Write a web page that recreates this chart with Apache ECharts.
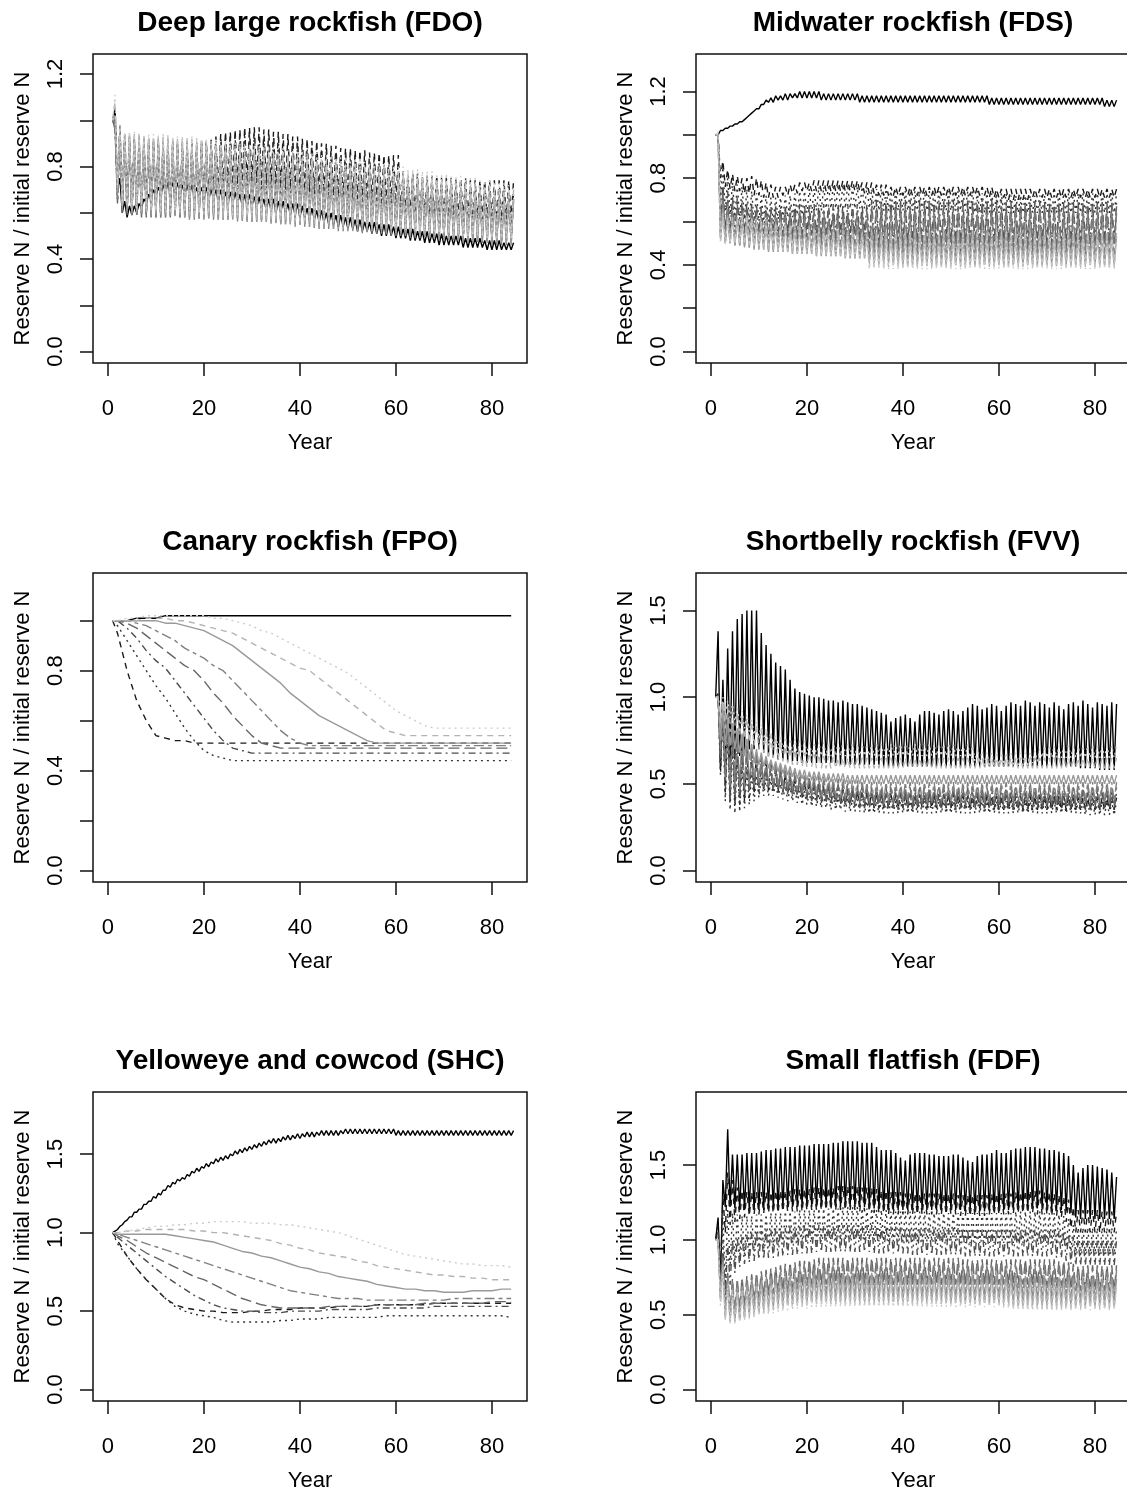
<!DOCTYPE html>
<html>
<head>
<meta charset="utf-8">
<script src="https://cdn.jsdelivr.net/npm/echarts@6/dist/echarts.min.js"></script>
<style>
html,body{margin:0;padding:0;background:#fff;overflow:hidden;}
#c{width:1140px;height:1494px;}
</style>
</head>
<body>
<div id="c"></div>
<script>
// ---------------- data ----------------
const YEARS = [1,2,3,4,5,6,7,8,9,10,11,12,13,14,15,16,17,18,19,20,21,22,23,24,25,26,27,28,29,30,31,32,33,34,35,36,37,38,39,40,41,42,43,44,45,46,47,48,49,50,51,52,53,54,55,56,57,58,59,60,61,62,63,64,65,66,67,68,69,70,71,72,73,74,75,76,77,78,79,80,81,82,83,84];
const YRS_SMOOTH = [1,2,4,6,8,10,12,14,16,18,20,22,24,26,28,30,32,34,36,38,40,42,44,46,48,50,52,54,56,58,60,62,64,66,68,70,72,74,76,78,80,82,84];
const X_TICKS = [0,20,40,60,80];
const Y_TICKS_A = [0,0.2,0.4,0.6,0.8,1.0,1.2];
const Y_LABELS_A = [0,0.4,0.8,1.2];
const Y_TICKS_B = [0,0.2,0.4,0.6,0.8,1.0];
const Y_LABELS_B = [0,0.4,0.8];
const Y_TICKS_C = [0,0.5,1.0,1.5];
const Y_LABELS_C = [0,0.5,1.0,1.5];
const SCENARIOS = ['s1','s2','s3','s4','s5','s6','s7','s8','s9'];

// Deep large rockfish (FDO): values at whole years (lo) and mid-year (hi)
const FDO_lo = [
[1.00,.70,.60,.58,.59,.60,.62,.64,.66,.67,.68,.69,
.69,.69,.68,.68,.68,.67,.67,.67,.66,.66,.65,.65,
.64,.64,.64,.63,.63,.63,.62,.62,.61,.61,.60,.60,
.60,.59,.59,.58,.58,.57,.57,.56,.56,.55,.55,.54,
.54,.53,.53,.52,.52,.52,.51,.51,.50,.50,.50,.49,
.49,.49,.48,.48,.48,.47,.47,.47,.46,.46,.46,.46,
.46,.45,.45,.45,.45,.45,.44,.44,.44,.44,.44,.44],
[1.00,.72,.68,.67,.66,.66,.66,.65,.65,.65,.64,.64,
.64,.64,.64,.64,.64,.64,.65,.66,.67,.68,.69,.70,
.71,.72,.72,.73,.73,.73,.73,.72,.72,.72,.71,.71,
.70,.70,.70,.69,.69,.69,.68,.68,.68,.67,.67,.67,
.66,.66,.66,.66,.65,.65,.65,.65,.64,.64,.64,.64,
.60,.60,.60,.59,.59,.59,.59,.58,.58,.58,.58,.58,
.58,.58,.57,.57,.57,.57,.57,.57,.57,.57,.57,.57],
[1.00,.65,.62,.61,.60,.60,.60,.60,.60,.60,.60,.60,
.60,.60,.60,.61,.61,.62,.62,.63,.63,.64,.65,.65,
.66,.66,.67,.67,.67,.67,.67,.67,.66,.66,.66,.65,
.65,.65,.64,.64,.64,.63,.63,.63,.62,.62,.62,.61,
.61,.61,.60,.60,.60,.60,.59,.59,.59,.59,.58,.58,
.56,.56,.56,.55,.55,.55,.55,.54,.54,.54,.54,.54,
.53,.53,.53,.53,.53,.53,.52,.52,.52,.52,.52,.52],
[1.00,.66,.61,.60,.59,.59,.59,.59,.59,.59,.59,.59,
.59,.59,.59,.59,.59,.60,.60,.60,.60,.60,.60,.60,
.60,.60,.60,.60,.60,.60,.60,.60,.60,.59,.59,.59,
.59,.59,.58,.58,.58,.58,.57,.57,.57,.57,.56,.56,
.56,.56,.56,.55,.55,.55,.55,.54,.54,.54,.54,.54,
.53,.53,.53,.53,.53,.52,.52,.52,.52,.52,.51,.51,
.51,.51,.51,.51,.50,.50,.50,.50,.50,.50,.50,.50],
[1.00,.64,.60,.59,.59,.59,.58,.58,.58,.58,.58,.58,
.58,.58,.58,.58,.58,.58,.58,.58,.58,.58,.58,.58,
.58,.58,.58,.58,.57,.57,.57,.57,.57,.57,.57,.56,
.56,.56,.56,.56,.55,.55,.55,.55,.55,.54,.54,.54,
.54,.54,.53,.53,.53,.53,.53,.52,.52,.52,.52,.52,
.51,.51,.51,.51,.51,.50,.50,.50,.50,.50,.49,.49,
.49,.49,.49,.49,.48,.48,.48,.48,.48,.48,.48,.48],
[1.00,.66,.61,.60,.59,.59,.59,.59,.59,.58,.58,.58,
.58,.58,.58,.58,.57,.57,.57,.57,.57,.57,.57,.57,
.57,.57,.56,.56,.56,.56,.56,.56,.56,.55,.55,.55,
.55,.55,.54,.54,.54,.54,.53,.53,.53,.53,.53,.52,
.52,.52,.52,.52,.51,.51,.51,.51,.51,.50,.50,.50,
.50,.50,.49,.49,.49,.49,.49,.48,.48,.48,.48,.48,
.48,.47,.47,.47,.47,.47,.47,.46,.46,.46,.46,.46],
[1.00,.68,.62,.61,.60,.60,.60,.60,.59,.59,.59,.59,
.59,.59,.59,.58,.58,.58,.58,.58,.58,.58,.57,.57,
.57,.57,.57,.57,.57,.56,.56,.56,.56,.56,.56,.55,
.55,.55,.55,.55,.55,.54,.54,.54,.54,.54,.53,.53,
.53,.53,.53,.52,.52,.52,.52,.52,.51,.51,.51,.51,
.51,.50,.50,.50,.50,.50,.49,.49,.49,.49,.49,.49,
.48,.48,.48,.48,.48,.48,.47,.47,.47,.47,.47,.47],
[1.00,.70,.63,.62,.61,.61,.61,.60,.60,.60,.60,.60,
.60,.60,.60,.60,.59,.59,.59,.59,.59,.59,.59,.58,
.58,.58,.58,.58,.58,.58,.57,.57,.57,.57,.57,.57,
.56,.56,.56,.56,.56,.56,.55,.55,.55,.55,.55,.55,
.54,.54,.54,.54,.54,.53,.53,.53,.53,.53,.53,.52,
.52,.52,.52,.52,.52,.51,.51,.51,.51,.51,.51,.50,
.50,.50,.50,.50,.50,.50,.49,.49,.49,.49,.49,.49],
[1.00,.72,.65,.64,.63,.62,.62,.62,.62,.61,.61,.61,
.61,.61,.61,.61,.61,.60,.60,.60,.60,.60,.60,.60,
.60,.59,.59,.59,.59,.59,.59,.59,.58,.58,.58,.58,
.58,.58,.57,.57,.57,.57,.57,.56,.56,.56,.56,.56,
.55,.55,.55,.55,.55,.54,.54,.54,.54,.54,.53,.53,
.53,.53,.53,.52,.52,.52,.52,.52,.51,.51,.51,.51,
.51,.50,.50,.50,.50,.50,.49,.49,.49,.49,.49,.49]
];
const FDO_hi = [
[1.05,.75,.65,.63,.63,.64,.66,.68,.70,.71,.72,.73,
.73,.73,.72,.72,.72,.71,.71,.71,.70,.70,.70,.69,
.69,.69,.68,.68,.68,.67,.67,.66,.66,.66,.65,.65,
.64,.64,.64,.63,.62,.62,.61,.61,.60,.60,.59,.59,
.58,.58,.57,.57,.56,.56,.56,.55,.55,.55,.54,.54,
.53,.53,.53,.52,.52,.52,.51,.51,.51,.50,.50,.50,
.50,.49,.49,.49,.49,.48,.48,.48,.48,.47,.47,.47],
[1.00,.98,.94,.93,.92,.92,.92,.91,.91,.91,.90,.90,
.90,.90,.90,.90,.90,.90,.91,.91,.92,.93,.94,.95,
.95,.96,.96,.97,.97,.97,.97,.96,.96,.95,.95,.94,
.94,.93,.93,.92,.92,.91,.91,.90,.90,.89,.89,.88,
.88,.88,.87,.87,.87,.86,.86,.86,.85,.85,.85,.85,
.78,.77,.77,.77,.76,.76,.76,.76,.75,.75,.75,.75,
.75,.75,.74,.74,.74,.74,.74,.74,.74,.74,.74,.74],
[.98,.95,.92,.90,.89,.89,.89,.88,.88,.88,.88,.88,
.88,.88,.88,.88,.89,.89,.90,.90,.91,.92,.92,.93,
.93,.93,.94,.94,.94,.94,.93,.93,.93,.92,.92,.91,
.91,.90,.90,.89,.89,.88,.88,.87,.87,.86,.86,.85,
.85,.84,.84,.83,.83,.83,.82,.82,.81,.81,.80,.80,
.74,.74,.73,.73,.73,.72,.72,.72,.72,.71,.71,.71,
.71,.70,.70,.70,.70,.70,.69,.69,.69,.69,.69,.69],
[.97,.92,.90,.89,.88,.88,.88,.88,.87,.87,.87,.87,
.87,.87,.87,.87,.87,.87,.87,.87,.87,.87,.87,.87,
.87,.87,.87,.86,.86,.86,.86,.85,.85,.85,.84,.84,
.84,.83,.83,.83,.82,.82,.82,.81,.81,.80,.80,.80,
.79,.79,.79,.78,.78,.78,.77,.77,.77,.76,.76,.76,
.75,.75,.75,.74,.74,.74,.73,.73,.73,.72,.72,.72,
.71,.71,.71,.70,.70,.70,.69,.69,.69,.68,.68,.68],
[.96,.93,.91,.90,.90,.90,.90,.89,.89,.89,.89,.88,
.88,.88,.88,.87,.87,.87,.87,.86,.86,.86,.86,.85,
.85,.85,.85,.84,.84,.84,.84,.83,.83,.83,.82,.82,
.82,.81,.81,.81,.80,.80,.80,.79,.79,.79,.78,.78,
.78,.77,.77,.77,.76,.76,.76,.75,.75,.75,.74,.74,
.74,.73,.73,.73,.72,.72,.72,.71,.71,.71,.70,.70,
.70,.69,.69,.69,.68,.68,.68,.67,.67,.67,.66,.66],
[.99,.94,.92,.92,.92,.92,.92,.92,.91,.91,.91,.91,
.91,.90,.90,.90,.90,.89,.89,.89,.89,.88,.88,.88,
.87,.87,.87,.86,.86,.86,.85,.85,.85,.84,.84,.84,
.83,.83,.82,.82,.82,.81,.81,.80,.80,.80,.79,.79,
.78,.78,.78,.77,.77,.76,.76,.76,.75,.75,.74,.74,
.74,.73,.73,.72,.72,.72,.71,.71,.70,.70,.70,.69,
.69,.68,.68,.68,.67,.67,.66,.66,.66,.65,.65,.65],
[1.02,.96,.93,.93,.93,.93,.93,.92,.92,.92,.92,.92,
.91,.91,.91,.91,.90,.90,.90,.90,.89,.89,.89,.88,
.88,.88,.87,.87,.87,.86,.86,.86,.85,.85,.85,.84,
.84,.84,.83,.83,.83,.82,.82,.81,.81,.81,.80,.80,
.80,.79,.79,.78,.78,.78,.77,.77,.76,.76,.76,.75,
.75,.74,.74,.74,.73,.73,.72,.72,.72,.71,.71,.70,
.70,.70,.69,.69,.68,.68,.68,.67,.67,.66,.66,.66],
[1.08,.97,.94,.94,.94,.94,.93,.93,.93,.93,.93,.93,
.92,.92,.92,.92,.92,.91,.91,.91,.91,.90,.90,.90,
.89,.89,.89,.88,.88,.88,.87,.87,.87,.86,.86,.86,
.85,.85,.85,.84,.84,.84,.83,.83,.83,.82,.82,.82,
.81,.81,.81,.80,.80,.80,.79,.79,.79,.78,.78,.78,
.77,.77,.77,.76,.76,.76,.75,.75,.75,.74,.74,.74,
.73,.73,.73,.72,.72,.72,.71,.71,.71,.70,.70,.70],
[1.11,.98,.95,.95,.95,.95,.94,.94,.94,.94,.94,.94,
.93,.93,.93,.93,.93,.93,.92,.92,.92,.92,.91,.91,
.91,.91,.90,.90,.90,.89,.89,.89,.89,.88,.88,.88,
.87,.87,.87,.87,.86,.86,.86,.85,.85,.85,.84,.84,
.84,.83,.83,.83,.82,.82,.82,.81,.81,.81,.80,.80,
.80,.79,.79,.79,.78,.78,.78,.77,.77,.77,.76,.76,
.76,.75,.75,.75,.74,.74,.74,.73,.73,.73,.72,.72]
];

// Midwater rockfish (FDS)
const FDS_lo = [
[1.00,1.02,1.03,1.04,1.05,1.06,1.07,1.09,1.11,1.12,1.14,1.15,
1.15,1.16,1.16,1.16,1.17,1.17,1.17,1.17,1.17,1.17,1.16,1.16,
1.16,1.16,1.16,1.16,1.16,1.16,1.15,1.15,1.15,1.15,1.15,1.15,
1.15,1.15,1.15,1.15,1.15,1.15,1.15,1.15,1.15,1.15,1.15,1.15,
1.15,1.15,1.15,1.15,1.15,1.15,1.15,1.15,1.15,1.14,1.14,1.14,
1.14,1.14,1.14,1.14,1.14,1.14,1.14,1.14,1.14,1.14,1.14,1.14,
1.14,1.14,1.14,1.14,1.14,1.14,1.14,1.14,1.14,1.13,1.13,1.13],
[1.00,.80,.76,.75,.74,.74,.73,.73,.72,.72,.71,.71,
.71,.71,.72,.72,.73,.73,.74,.74,.74,.74,.74,.74,
.74,.74,.74,.74,.74,.74,.74,.73,.73,.73,.72,.72,
.72,.72,.72,.72,.72,.72,.72,.72,.72,.72,.72,.72,
.72,.72,.72,.72,.72,.72,.72,.72,.72,.71,.71,.71,
.71,.70,.70,.70,.70,.70,.71,.71,.71,.71,.71,.71,
.71,.71,.71,.71,.71,.71,.71,.71,.71,.71,.71,.71],
[1.00,.70,.65,.63,.62,.61,.61,.60,.60,.60,.60,.60,
.60,.61,.61,.62,.62,.63,.63,.64,.64,.65,.65,.66,
.66,.66,.66,.66,.66,.66,.66,.66,.66,.65,.65,.65,
.65,.65,.65,.65,.65,.65,.65,.65,.65,.65,.65,.65,
.65,.65,.65,.65,.65,.65,.64,.64,.64,.64,.64,.64,
.64,.64,.64,.64,.64,.64,.64,.64,.64,.64,.64,.64,
.64,.64,.64,.64,.64,.64,.64,.64,.64,.64,.64,.64],
[1.00,.58,.55,.54,.54,.54,.54,.54,.54,.54,.54,.54,
.54,.54,.54,.54,.54,.54,.54,.54,.54,.54,.54,.54,
.54,.54,.54,.54,.54,.54,.54,.54,.50,.50,.50,.50,
.50,.50,.50,.50,.50,.50,.50,.50,.50,.50,.50,.50,
.50,.50,.50,.50,.50,.50,.50,.50,.50,.50,.50,.50,
.50,.50,.50,.50,.50,.50,.50,.50,.50,.50,.50,.50,
.50,.50,.50,.50,.50,.50,.50,.50,.50,.50,.50,.50],
[1.00,.55,.52,.51,.51,.51,.51,.50,.50,.50,.50,.50,
.50,.50,.50,.50,.50,.50,.50,.50,.49,.49,.49,.49,
.49,.49,.49,.49,.49,.49,.49,.49,.45,.45,.45,.45,
.45,.45,.45,.45,.45,.45,.45,.45,.45,.45,.45,.45,
.45,.45,.45,.45,.45,.45,.45,.45,.45,.45,.45,.45,
.45,.45,.45,.45,.45,.45,.45,.45,.45,.45,.45,.45,
.45,.45,.45,.45,.45,.45,.45,.45,.45,.45,.45,.45],
[1.00,.53,.50,.50,.49,.49,.49,.48,.48,.48,.48,.47,
.47,.47,.47,.47,.47,.46,.46,.46,.46,.46,.46,.46,
.46,.45,.45,.45,.45,.45,.45,.45,.42,.42,.42,.42,
.42,.42,.42,.42,.42,.42,.42,.42,.42,.42,.42,.42,
.42,.42,.42,.42,.42,.42,.42,.42,.42,.42,.42,.42,
.42,.42,.42,.42,.42,.42,.42,.42,.42,.42,.42,.42,
.42,.42,.42,.42,.42,.42,.42,.42,.42,.42,.42,.42],
[1.00,.52,.50,.50,.49,.49,.48,.48,.47,.47,.47,.46,
.46,.46,.46,.46,.45,.45,.45,.45,.45,.44,.44,.44,
.44,.44,.44,.43,.43,.43,.43,.43,.41,.41,.41,.41,
.41,.41,.40,.40,.40,.40,.40,.40,.40,.40,.40,.40,
.40,.40,.40,.40,.40,.40,.40,.40,.40,.40,.40,.40,
.40,.40,.40,.40,.40,.40,.40,.40,.40,.40,.40,.40,
.40,.40,.40,.40,.40,.40,.40,.40,.40,.40,.40,.40],
[1.00,.51,.50,.50,.50,.50,.49,.49,.48,.48,.47,.47,
.47,.46,.46,.46,.45,.45,.45,.45,.45,.44,.44,.44,
.44,.44,.44,.43,.43,.43,.43,.43,.39,.39,.39,.39,
.39,.39,.39,.39,.39,.39,.39,.39,.39,.39,.39,.39,
.39,.39,.39,.39,.39,.39,.39,.39,.39,.39,.39,.39,
.39,.39,.39,.39,.39,.39,.39,.39,.39,.39,.39,.39,
.39,.39,.39,.39,.39,.39,.39,.39,.39,.39,.39,.39],
[1.00,.50,.50,.50,.50,.50,.50,.49,.49,.49,.48,.48,
.48,.47,.47,.47,.47,.46,.46,.46,.46,.46,.45,.45,
.45,.45,.45,.44,.44,.44,.44,.44,.38,.38,.38,.38,
.38,.38,.38,.38,.38,.38,.38,.38,.38,.38,.38,.38,
.38,.38,.38,.38,.38,.38,.38,.38,.38,.38,.38,.38,
.38,.38,.38,.38,.38,.38,.38,.38,.38,.38,.38,.38,
.38,.38,.38,.38,.38,.38,.38,.38,.38,.38,.38,.38]
];
const FDS_hi = [
[1.00,1.02,1.03,1.04,1.05,1.06,1.08,1.10,1.12,1.14,1.16,1.17,
1.18,1.18,1.19,1.19,1.19,1.20,1.20,1.20,1.20,1.20,1.19,1.19,
1.19,1.19,1.19,1.19,1.19,1.19,1.18,1.18,1.18,1.18,1.18,1.18,
1.18,1.18,1.18,1.18,1.18,1.18,1.18,1.18,1.18,1.18,1.18,1.18,
1.18,1.18,1.18,1.18,1.18,1.18,1.18,1.18,1.18,1.17,1.17,1.17,
1.17,1.17,1.17,1.17,1.17,1.17,1.17,1.17,1.17,1.17,1.17,1.17,
1.17,1.17,1.17,1.17,1.17,1.17,1.17,1.17,1.17,1.16,1.16,1.16],
[1.00,.88,.84,.82,.81,.80,.80,.81,.80,.79,.78,.77,
.76,.76,.76,.77,.77,.78,.78,.78,.79,.79,.79,.79,
.79,.79,.79,.79,.79,.79,.78,.78,.78,.77,.77,.77,
.76,.76,.76,.76,.76,.76,.76,.76,.76,.76,.76,.76,
.76,.76,.76,.76,.76,.76,.76,.76,.76,.76,.75,.75,
.75,.75,.75,.75,.75,.75,.75,.75,.75,.75,.75,.75,
.75,.75,.75,.75,.75,.75,.75,.75,.75,.75,.75,.75],
[1.00,.85,.80,.78,.77,.76,.75,.74,.73,.72,.72,.71,
.71,.71,.72,.72,.73,.74,.74,.75,.75,.76,.76,.77,
.77,.77,.77,.77,.76,.76,.76,.76,.75,.75,.75,.75,
.74,.74,.74,.74,.74,.74,.74,.74,.74,.74,.74,.74,
.74,.74,.74,.74,.74,.74,.74,.73,.73,.73,.73,.73,
.73,.72,.72,.72,.72,.72,.72,.72,.72,.73,.73,.73,
.73,.73,.73,.73,.73,.73,.73,.73,.73,.73,.73,.73],
[1.00,.78,.74,.72,.71,.70,.69,.68,.68,.67,.67,.67,
.67,.67,.67,.67,.68,.68,.68,.68,.68,.68,.68,.68,
.68,.68,.68,.68,.68,.68,.68,.68,.70,.70,.70,.70,
.70,.70,.70,.70,.70,.70,.70,.70,.70,.70,.70,.70,
.70,.70,.70,.70,.70,.70,.70,.70,.70,.70,.70,.70,
.69,.69,.69,.69,.69,.69,.69,.69,.69,.69,.69,.69,
.69,.69,.69,.69,.69,.69,.69,.69,.69,.69,.69,.69],
[1.00,.74,.70,.69,.68,.67,.66,.66,.65,.65,.65,.65,
.65,.65,.65,.65,.65,.65,.65,.65,.65,.65,.65,.65,
.65,.65,.65,.65,.65,.65,.65,.65,.67,.67,.67,.67,
.67,.67,.67,.67,.67,.67,.67,.67,.67,.67,.67,.67,
.67,.67,.67,.67,.67,.67,.67,.67,.67,.67,.67,.67,
.67,.67,.67,.67,.67,.67,.67,.67,.67,.67,.67,.67,
.67,.67,.67,.67,.67,.67,.67,.67,.67,.67,.67,.67],
[1.00,.70,.66,.65,.64,.64,.63,.63,.62,.62,.62,.62,
.62,.62,.62,.62,.62,.62,.62,.61,.61,.61,.61,.61,
.61,.61,.61,.61,.61,.61,.61,.61,.64,.64,.64,.64,
.64,.64,.64,.64,.64,.64,.64,.64,.64,.64,.64,.64,
.64,.64,.64,.64,.64,.64,.64,.64,.64,.64,.64,.64,
.64,.64,.64,.64,.64,.64,.64,.64,.64,.64,.64,.64,
.64,.64,.64,.64,.64,.64,.64,.64,.64,.64,.64,.64],
[1.00,.66,.63,.62,.62,.62,.61,.61,.60,.60,.60,.59,
.59,.59,.59,.58,.58,.58,.58,.57,.57,.57,.57,.57,
.56,.56,.56,.56,.56,.55,.55,.55,.55,.55,.55,.54,
.54,.54,.54,.54,.54,.54,.53,.53,.53,.53,.53,.53,
.53,.53,.53,.53,.53,.53,.53,.53,.53,.53,.53,.53,
.53,.53,.53,.53,.53,.53,.53,.53,.53,.53,.53,.53,
.53,.53,.53,.53,.53,.53,.53,.53,.53,.53,.53,.53],
[1.00,.64,.62,.62,.62,.63,.63,.62,.62,.61,.61,.60,
.60,.60,.59,.59,.59,.58,.58,.58,.57,.57,.57,.56,
.56,.56,.56,.55,.55,.55,.55,.54,.55,.55,.55,.55,
.55,.55,.55,.55,.55,.55,.55,.55,.55,.55,.55,.55,
.55,.55,.55,.55,.55,.55,.55,.55,.55,.55,.55,.55,
.55,.55,.55,.55,.55,.55,.55,.55,.55,.55,.55,.55,
.55,.55,.55,.55,.55,.55,.55,.55,.55,.55,.55,.55],
[1.02,.62,.60,.60,.61,.62,.62,.61,.60,.60,.59,.59,
.58,.58,.58,.57,.57,.57,.56,.56,.56,.55,.55,.55,
.55,.54,.54,.54,.54,.53,.53,.53,.52,.52,.52,.52,
.52,.52,.52,.52,.52,.52,.52,.52,.52,.52,.52,.52,
.52,.52,.52,.52,.52,.52,.52,.52,.52,.52,.52,.52,
.52,.52,.52,.52,.52,.52,.52,.52,.52,.52,.52,.52,
.52,.52,.52,.52,.52,.52,.52,.52,.52,.52,.52,.52]
];

// Shortbelly rockfish (FVV)
const FVV_lo = [
[1.00,.58,.60,.62,.64,.66,.68,.70,.70,.70,.68,.66,
.65,.64,.64,.63,.63,.63,.62,.62,.62,.62,.62,.62,
.62,.62,.61,.61,.61,.61,.61,.61,.61,.61,.61,.60,
.60,.60,.60,.60,.60,.60,.60,.60,.60,.60,.60,.60,
.60,.60,.60,.60,.60,.60,.60,.60,.60,.60,.60,.60,
.60,.60,.60,.60,.60,.60,.60,.60,.60,.60,.60,.60,
.60,.60,.60,.60,.59,.59,.59,.59,.58,.58,.58,.58],
[1.00,.60,.45,.40,.38,.38,.40,.42,.44,.45,.46,.46,
.46,.45,.45,.44,.44,.43,.42,.42,.41,.41,.40,.40,
.39,.39,.38,.38,.38,.37,.37,.37,.37,.36,.36,.36,
.36,.36,.36,.36,.36,.36,.36,.36,.36,.36,.36,.36,
.36,.36,.36,.36,.36,.36,.36,.36,.36,.36,.35,.35,
.35,.35,.35,.35,.35,.35,.35,.35,.35,.35,.35,.35,
.35,.35,.35,.35,.35,.35,.35,.35,.35,.35,.35,.35],
[1.00,.55,.40,.35,.33,.34,.36,.38,.40,.42,.43,.43,
.43,.42,.41,.40,.40,.39,.38,.38,.37,.37,.36,.36,
.35,.35,.35,.34,.34,.34,.34,.33,.33,.33,.33,.33,
.33,.33,.33,.33,.33,.33,.33,.33,.33,.33,.33,.33,
.33,.33,.33,.33,.33,.33,.33,.33,.33,.33,.33,.33,
.33,.33,.33,.33,.33,.33,.33,.33,.33,.33,.33,.33,
.33,.33,.33,.33,.33,.32,.32,.32,.32,.32,.32,.32],
[1.00,.62,.48,.42,.41,.42,.44,.46,.47,.48,.48,.48,
.47,.46,.45,.44,.43,.42,.42,.41,.40,.40,.39,.39,
.38,.38,.38,.37,.37,.37,.36,.36,.36,.36,.36,.36,
.36,.36,.35,.36,.36,.35,.36,.36,.35,.36,.36,.35,
.36,.36,.35,.36,.36,.35,.36,.36,.35,.36,.36,.35,
.36,.36,.35,.36,.36,.35,.36,.36,.35,.36,.36,.35,
.36,.36,.35,.36,.36,.35,.36,.36,.35,.36,.36,.35],
[1.00,.65,.52,.46,.44,.45,.46,.47,.48,.48,.48,.48,
.47,.47,.46,.45,.44,.44,.43,.43,.42,.42,.41,.41,
.41,.40,.40,.40,.39,.39,.39,.39,.38,.38,.38,.38,
.38,.38,.38,.38,.38,.38,.38,.38,.38,.38,.38,.38,
.38,.38,.38,.38,.38,.38,.38,.38,.38,.38,.38,.38,
.38,.38,.38,.38,.38,.38,.38,.38,.38,.38,.38,.38,
.38,.38,.38,.38,.38,.38,.38,.38,.38,.38,.38,.38],
[1.00,.70,.56,.50,.47,.47,.48,.49,.50,.50,.50,.50,
.49,.49,.48,.47,.47,.46,.45,.45,.44,.44,.43,.43,
.43,.42,.42,.42,.41,.41,.41,.41,.40,.40,.40,.40,
.40,.40,.40,.40,.40,.40,.40,.40,.40,.40,.40,.40,
.40,.40,.40,.40,.40,.40,.40,.40,.40,.40,.40,.40,
.40,.40,.40,.40,.40,.40,.40,.40,.40,.40,.40,.40,
.40,.40,.40,.40,.40,.40,.40,.40,.40,.40,.40,.40],
[1.00,.75,.72,.72,.70,.68,.66,.64,.62,.61,.60,.59,
.58,.57,.56,.55,.54,.53,.53,.52,.52,.52,.51,.51,
.51,.51,.51,.50,.50,.50,.50,.50,.50,.50,.50,.50,
.50,.50,.50,.50,.50,.50,.50,.50,.50,.50,.50,.50,
.50,.50,.50,.50,.50,.50,.50,.50,.50,.50,.50,.50,
.50,.50,.50,.50,.50,.50,.50,.50,.50,.50,.50,.50,
.50,.50,.50,.50,.50,.50,.50,.50,.50,.50,.50,.50],
[1.00,.85,.82,.80,.79,.78,.76,.74,.72,.70,.68,.66,
.65,.64,.63,.62,.61,.61,.60,.60,.60,.59,.59,.59,
.59,.59,.59,.59,.59,.59,.59,.59,.59,.59,.59,.59,
.59,.59,.59,.59,.59,.59,.59,.59,.59,.59,.59,.59,
.59,.59,.59,.59,.59,.59,.59,.59,.59,.59,.59,.59,
.59,.59,.59,.59,.59,.59,.59,.59,.59,.59,.59,.59,
.59,.59,.59,.59,.59,.59,.59,.59,.59,.59,.59,.59],
[1.00,.92,.90,.88,.86,.84,.82,.80,.78,.76,.74,.72,
.71,.70,.69,.68,.68,.67,.67,.67,.66,.66,.66,.66,
.66,.66,.66,.66,.66,.66,.66,.66,.66,.66,.66,.66,
.66,.66,.66,.66,.66,.66,.66,.66,.66,.66,.66,.66,
.66,.66,.66,.66,.66,.65,.63,.62,.61,.61,.61,.61,
.61,.61,.61,.61,.61,.61,.62,.63,.65,.65,.65,.65,
.65,.65,.65,.65,.65,.65,.65,.65,.65,.65,.65,.65]
];
const FVV_hi = [
[1.38,1.10,1.28,1.38,1.45,1.48,1.50,1.50,1.50,1.37,1.30,1.25,
1.20,1.18,1.16,1.10,1.05,1.03,1.02,1.01,1.00,1.00,.99,.98,
.98,.97,.98,.97,.96,.96,.95,.94,.93,.92,.91,.90,
.86,.88,.89,.90,.88,.86,.90,.92,.92,.91,.90,.92,
.93,.92,.90,.92,.94,.96,.95,.93,.94,.96,.95,.92,
.95,.97,.96,.95,.98,.97,.95,.97,.96,.94,.97,.95,
.93,.96,.97,.95,.98,.96,.94,.97,.96,.95,.97,.96],
[1.02,.95,.90,.85,.80,.75,.72,.70,.68,.66,.64,.62,
.60,.58,.56,.55,.54,.53,.52,.51,.50,.50,.49,.49,
.48,.48,.47,.47,.46,.46,.46,.45,.45,.45,.45,.44,
.44,.44,.44,.44,.44,.44,.44,.44,.44,.44,.44,.44,
.44,.44,.44,.43,.43,.43,.43,.43,.43,.43,.43,.43,
.43,.43,.43,.43,.43,.43,.43,.43,.43,.43,.43,.43,
.43,.43,.42,.42,.42,.42,.42,.42,.42,.42,.42,.42],
[1.00,.90,.80,.72,.65,.60,.58,.56,.55,.54,.53,.52,
.51,.50,.49,.48,.47,.46,.46,.45,.45,.44,.44,.43,
.43,.42,.42,.42,.41,.41,.41,.40,.40,.40,.40,.40,
.40,.40,.40,.40,.40,.40,.40,.40,.40,.40,.40,.40,
.40,.40,.40,.40,.40,.40,.40,.40,.40,.40,.40,.40,
.40,.40,.40,.40,.40,.40,.40,.40,.40,.40,.40,.40,
.40,.40,.40,.40,.40,.40,.40,.40,.40,.40,.40,.40],
[1.00,.92,.85,.78,.72,.68,.65,.63,.61,.60,.58,.57,
.56,.55,.54,.53,.52,.51,.50,.50,.49,.49,.48,.48,
.47,.47,.47,.46,.46,.46,.45,.45,.45,.45,.45,.45,
.45,.45,.45,.45,.45,.45,.45,.45,.45,.45,.45,.45,
.45,.45,.45,.45,.45,.45,.45,.45,.45,.45,.45,.45,
.45,.45,.45,.45,.45,.45,.45,.45,.45,.45,.45,.45,
.45,.45,.45,.45,.45,.45,.45,.45,.45,.45,.45,.45],
[1.00,.94,.88,.82,.77,.73,.70,.67,.65,.63,.61,.60,
.59,.58,.57,.56,.55,.54,.54,.53,.53,.52,.52,.51,
.51,.50,.50,.50,.49,.49,.49,.48,.48,.48,.48,.48,
.48,.48,.48,.48,.48,.48,.48,.48,.48,.48,.48,.48,
.48,.48,.48,.48,.48,.48,.48,.48,.48,.48,.48,.48,
.48,.48,.48,.48,.48,.48,.48,.48,.48,.48,.48,.48,
.48,.48,.48,.48,.48,.48,.48,.48,.48,.48,.48,.48],
[1.00,.96,.90,.85,.80,.76,.73,.70,.68,.66,.64,.63,
.62,.61,.60,.59,.58,.57,.56,.56,.55,.55,.54,.54,
.53,.53,.53,.52,.52,.52,.52,.51,.51,.51,.51,.51,
.51,.51,.51,.51,.51,.51,.51,.51,.51,.51,.51,.51,
.51,.51,.51,.51,.51,.51,.51,.51,.51,.51,.51,.51,
.51,.51,.51,.51,.51,.51,.51,.51,.51,.51,.51,.51,
.51,.51,.51,.51,.51,.51,.51,.51,.51,.51,.51,.51],
[1.00,.95,.88,.85,.82,.79,.76,.73,.70,.68,.66,.64,
.63,.62,.61,.60,.59,.58,.58,.57,.57,.57,.56,.56,
.56,.56,.56,.55,.55,.55,.55,.55,.55,.55,.55,.55,
.55,.55,.55,.55,.55,.55,.55,.55,.55,.55,.55,.55,
.55,.55,.55,.55,.55,.55,.55,.55,.55,.55,.55,.55,
.55,.55,.55,.55,.55,.55,.55,.55,.55,.55,.55,.55,
.55,.55,.55,.55,.55,.55,.55,.55,.55,.55,.55,.55],
[1.00,.98,.94,.92,.90,.89,.88,.86,.84,.82,.80,.78,
.76,.74,.72,.71,.70,.69,.68,.68,.67,.67,.66,.66,
.66,.65,.65,.65,.65,.65,.65,.65,.65,.65,.65,.65,
.65,.65,.65,.65,.65,.65,.65,.65,.65,.65,.65,.65,
.65,.65,.65,.65,.65,.65,.65,.65,.65,.65,.65,.65,
.65,.65,.65,.65,.65,.65,.65,.65,.65,.65,.65,.65,
.65,.65,.65,.65,.65,.65,.65,.65,.65,.65,.65,.65],
[1.00,1.00,.98,.96,.94,.92,.90,.88,.86,.84,.82,.80,
.79,.78,.77,.76,.76,.75,.75,.75,.74,.74,.74,.74,
.74,.74,.74,.73,.73,.73,.73,.73,.73,.73,.73,.73,
.73,.73,.73,.73,.73,.73,.73,.73,.73,.73,.73,.73,
.73,.73,.73,.73,.73,.72,.70,.69,.68,.68,.68,.68,
.68,.68,.68,.68,.68,.68,.69,.70,.72,.72,.72,.72,
.72,.72,.72,.72,.72,.72,.72,.72,.72,.72,.72,.72]
];

// Small flatfish (FDF)
const FDF_lo = [
[1.00,.70,1.22,1.22,1.21,1.20,1.20,1.20,1.20,1.20,1.20,1.21,
1.21,1.21,1.21,1.22,1.22,1.22,1.22,1.22,1.22,1.22,1.22,1.22,
1.22,1.22,1.22,1.22,1.22,1.22,1.22,1.22,1.21,1.21,1.21,1.20,
1.20,1.20,1.20,1.20,1.20,1.20,1.20,1.20,1.20,1.20,1.20,1.20,
1.20,1.20,1.20,1.20,1.20,1.20,1.20,1.19,1.19,1.19,1.19,1.19,
1.20,1.20,1.20,1.20,1.21,1.21,1.21,1.21,1.21,1.21,1.20,1.20,
1.20,1.19,1.18,1.15,1.14,1.14,1.14,1.14,1.14,1.14,1.14,1.14],
[1.00,.75,1.05,1.10,1.12,1.14,1.15,1.16,1.17,1.17,1.18,1.18,
1.18,1.18,1.19,1.19,1.19,1.19,1.19,1.20,1.20,1.20,1.20,1.20,
1.20,1.20,1.20,1.20,1.20,1.20,1.19,1.19,1.19,1.18,1.18,1.18,
1.17,1.17,1.17,1.17,1.17,1.17,1.17,1.17,1.17,1.17,1.17,1.17,
1.17,1.17,1.17,1.16,1.16,1.16,1.16,1.16,1.16,1.17,1.17,1.17,
1.17,1.17,1.18,1.18,1.18,1.18,1.18,1.17,1.17,1.17,1.16,1.16,
1.15,1.12,1.08,1.05,1.05,1.05,1.05,1.05,1.05,1.05,1.05,1.05],
[1.00,.70,.70,.82,.86,.88,.90,.91,.92,.93,.94,.95,
.96,.96,.97,.97,.98,.98,.98,.99,.99,.99,.99,1.00,
1.00,1.00,1.00,1.00,1.00,1.00,1.00,1.00,1.00,1.00,.99,.99,
.99,.99,.99,.99,.99,.99,.99,.99,.99,.99,.99,.99,
.99,.99,.99,.98,.98,.98,.98,.98,.98,.98,.98,.98,
.98,.98,.98,.98,.98,.98,.98,.98,.98,.98,.98,.97,
.97,.95,.92,.90,.90,.90,.90,.90,.90,.90,.90,.90],
[1.00,.68,.62,.70,.78,.82,.84,.85,.86,.87,.87,.88,
.88,.89,.89,.90,.90,.90,.91,.91,.91,.92,.92,.92,
.92,.92,.92,.92,.92,.92,.92,.92,.92,.91,.91,.91,
.91,.91,.91,.91,.91,.90,.90,.90,.90,.90,.90,.90,
.90,.90,.90,.90,.89,.89,.89,.89,.89,.89,.89,.89,
.89,.89,.89,.89,.89,.89,.89,.89,.89,.89,.89,.88,
.88,.86,.84,.83,.83,.83,.83,.83,.83,.83,.83,.83],
[1.00,.65,.55,.52,.52,.53,.55,.57,.59,.61,.62,.63,
.64,.65,.66,.67,.68,.68,.69,.69,.70,.70,.70,.70,
.71,.71,.71,.71,.71,.71,.71,.71,.71,.71,.71,.71,
.70,.70,.70,.70,.70,.70,.70,.70,.70,.70,.70,.70,
.70,.70,.70,.70,.70,.70,.70,.70,.70,.70,.70,.70,
.70,.70,.70,.70,.70,.70,.70,.70,.70,.69,.69,.69,
.69,.68,.67,.66,.66,.66,.66,.66,.66,.66,.66,.66],
[1.00,.62,.50,.48,.47,.48,.50,.52,.54,.55,.56,.57,
.58,.59,.60,.60,.61,.61,.62,.62,.62,.62,.63,.63,
.63,.63,.63,.63,.63,.63,.63,.63,.63,.63,.63,.63,
.62,.62,.62,.62,.62,.62,.62,.62,.62,.62,.62,.62,
.62,.62,.62,.62,.62,.62,.62,.62,.62,.62,.62,.62,
.62,.62,.62,.62,.61,.61,.61,.61,.61,.61,.61,.61,
.61,.61,.60,.60,.60,.60,.60,.60,.60,.60,.60,.60],
[1.00,.60,.48,.46,.46,.47,.48,.50,.51,.52,.53,.54,
.55,.56,.56,.57,.57,.58,.58,.58,.59,.59,.59,.59,
.59,.59,.59,.59,.59,.59,.59,.59,.59,.59,.59,.59,
.59,.59,.59,.59,.59,.59,.59,.59,.59,.59,.59,.59,
.58,.58,.58,.58,.58,.58,.58,.58,.58,.58,.58,.58,
.58,.58,.57,.57,.56,.56,.56,.56,.56,.56,.56,.56,
.56,.56,.56,.56,.56,.56,.56,.56,.56,.56,.56,.56],
[1.00,.58,.47,.45,.45,.46,.47,.48,.49,.50,.51,.52,
.53,.54,.54,.55,.55,.56,.56,.56,.57,.57,.57,.57,
.57,.57,.57,.57,.57,.57,.57,.57,.57,.57,.57,.57,
.57,.57,.57,.57,.57,.57,.57,.57,.57,.57,.57,.57,
.57,.57,.57,.57,.57,.57,.57,.57,.57,.57,.57,.57,
.56,.56,.54,.54,.54,.54,.54,.54,.54,.54,.54,.54,
.54,.54,.54,.54,.54,.54,.54,.54,.54,.54,.54,.54],
[1.00,.56,.46,.44,.44,.45,.46,.47,.48,.49,.50,.50,
.51,.52,.52,.53,.53,.54,.54,.54,.55,.55,.55,.55,
.55,.55,.55,.55,.55,.55,.55,.55,.55,.55,.55,.55,
.55,.55,.55,.55,.55,.55,.55,.55,.55,.55,.55,.55,
.55,.55,.55,.55,.55,.55,.55,.55,.55,.55,.55,.55,
.54,.54,.53,.53,.53,.53,.53,.53,.53,.53,.53,.53,
.53,.53,.53,.53,.53,.53,.53,.53,.53,.53,.53,.53]
];
const FDF_hi = [
[1.15,1.40,1.74,1.57,1.57,1.57,1.58,1.58,1.58,1.59,1.60,1.60,
1.61,1.61,1.62,1.62,1.62,1.63,1.63,1.63,1.64,1.64,1.64,1.64,
1.65,1.65,1.66,1.66,1.66,1.66,1.65,1.65,1.65,1.62,1.60,1.60,
1.60,1.58,1.55,1.53,1.57,1.58,1.58,1.58,1.57,1.57,1.56,1.56,
1.56,1.57,1.57,1.55,1.53,1.52,1.56,1.57,1.57,1.58,1.60,1.58,
1.58,1.60,1.61,1.61,1.62,1.62,1.62,1.61,1.61,1.60,1.60,1.59,
1.58,1.56,1.50,1.45,1.48,1.50,1.50,1.49,1.48,1.47,1.45,1.42],
[1.10,1.30,1.45,1.40,1.35,1.33,1.32,1.32,1.32,1.32,1.32,1.32,
1.33,1.33,1.33,1.33,1.34,1.34,1.34,1.34,1.35,1.35,1.35,1.35,
1.35,1.36,1.36,1.36,1.36,1.36,1.35,1.35,1.35,1.34,1.33,1.33,
1.32,1.32,1.32,1.31,1.31,1.31,1.31,1.31,1.31,1.31,1.31,1.31,
1.31,1.31,1.30,1.30,1.30,1.30,1.30,1.30,1.30,1.31,1.31,1.31,
1.31,1.31,1.32,1.32,1.33,1.33,1.33,1.33,1.32,1.32,1.31,1.30,
1.29,1.27,1.22,1.20,1.20,1.20,1.20,1.20,1.19,1.19,1.19,1.19],
[1.05,1.15,1.20,1.18,1.17,1.16,1.16,1.16,1.17,1.17,1.17,1.18,
1.18,1.18,1.19,1.19,1.19,1.20,1.20,1.20,1.20,1.21,1.21,1.21,
1.21,1.21,1.22,1.22,1.22,1.22,1.21,1.21,1.21,1.20,1.20,1.20,
1.19,1.19,1.19,1.19,1.19,1.19,1.19,1.19,1.18,1.18,1.18,1.18,
1.18,1.18,1.18,1.18,1.18,1.18,1.18,1.18,1.18,1.18,1.18,1.18,
1.18,1.18,1.19,1.19,1.19,1.19,1.19,1.19,1.18,1.18,1.18,1.17,
1.16,1.14,1.10,1.08,1.08,1.08,1.08,1.08,1.08,1.08,1.08,1.08],
[1.05,1.00,.98,1.00,1.02,1.03,1.04,1.05,1.06,1.06,1.07,1.07,
1.08,1.08,1.08,1.09,1.09,1.09,1.10,1.10,1.10,1.10,1.10,1.10,
1.10,1.10,1.10,1.10,1.10,1.10,1.10,1.10,1.10,1.09,1.09,1.09,
1.09,1.09,1.09,1.08,1.08,1.08,1.08,1.08,1.08,1.08,1.08,1.08,
1.08,1.08,1.08,1.08,1.07,1.07,1.07,1.07,1.07,1.07,1.07,1.07,
1.07,1.07,1.07,1.07,1.07,1.07,1.07,1.07,1.07,1.07,1.07,1.06,
1.06,1.04,1.02,1.00,1.00,1.00,1.00,1.00,1.00,1.00,1.00,1.00],
[1.00,.90,.78,.74,.74,.75,.76,.77,.78,.79,.80,.81,
.82,.83,.84,.85,.85,.86,.86,.87,.87,.88,.88,.88,
.88,.88,.88,.88,.88,.88,.88,.88,.88,.88,.88,.88,
.88,.88,.88,.88,.88,.88,.88,.88,.88,.88,.88,.88,
.88,.88,.88,.87,.87,.87,.87,.87,.87,.87,.87,.87,
.87,.87,.87,.87,.87,.87,.87,.87,.87,.87,.87,.86,
.86,.85,.84,.83,.83,.83,.83,.83,.83,.83,.83,.83],
[1.00,.88,.76,.72,.72,.73,.74,.75,.76,.77,.78,.79,
.80,.80,.81,.82,.82,.83,.83,.83,.84,.84,.84,.84,
.85,.85,.85,.85,.85,.85,.85,.85,.85,.85,.85,.85,
.84,.84,.84,.84,.84,.84,.84,.84,.84,.84,.84,.84,
.84,.84,.84,.84,.84,.84,.84,.84,.84,.84,.84,.84,
.83,.83,.83,.83,.83,.83,.83,.83,.83,.83,.83,.83,
.82,.82,.81,.80,.80,.80,.80,.80,.80,.80,.80,.80],
[1.00,.85,.72,.68,.68,.69,.70,.71,.72,.73,.74,.74,
.75,.75,.76,.76,.77,.77,.77,.78,.78,.78,.78,.78,
.78,.78,.78,.78,.78,.78,.78,.78,.78,.78,.78,.78,
.78,.78,.78,.78,.78,.78,.78,.78,.78,.78,.78,.78,
.77,.77,.77,.77,.77,.77,.77,.77,.77,.77,.77,.77,
.77,.77,.76,.76,.76,.76,.76,.76,.76,.76,.75,.75,
.75,.75,.74,.74,.74,.74,.74,.74,.74,.74,.74,.74],
[1.00,.82,.70,.66,.65,.66,.67,.68,.69,.70,.70,.71,
.71,.72,.72,.73,.73,.73,.74,.74,.74,.74,.74,.74,
.74,.74,.74,.74,.74,.74,.74,.74,.74,.74,.74,.74,
.74,.74,.74,.74,.74,.74,.74,.74,.74,.74,.74,.74,
.73,.73,.73,.73,.73,.73,.73,.73,.73,.73,.73,.73,
.73,.72,.72,.72,.72,.72,.72,.72,.72,.72,.72,.72,
.71,.71,.70,.70,.70,.70,.70,.70,.70,.70,.70,.70],
[1.00,.80,.68,.64,.63,.64,.65,.66,.67,.67,.68,.68,
.69,.69,.70,.70,.70,.71,.71,.71,.71,.71,.71,.71,
.71,.71,.71,.71,.71,.71,.71,.71,.71,.71,.71,.71,
.71,.71,.71,.71,.71,.71,.71,.71,.71,.71,.71,.71,
.70,.70,.70,.70,.70,.70,.70,.70,.70,.70,.70,.70,
.70,.70,.69,.69,.69,.69,.69,.69,.69,.69,.69,.69,
.68,.68,.68,.68,.68,.68,.68,.68,.68,.68,.68,.68]
];

// Canary rockfish (FPO): smooth lines at YRS_SMOOTH
const FPO_lines = [
[1.00,1.00,1.00,1.01,1.01,1.01,1.02,1.02,1.02,1.02,1.02,1.02,1.02,1.02,1.02,1.02,1.02,1.02,1.02,1.02,1.02,1.02,1.02,1.02,1.02,1.02,1.02,1.02,1.02,1.02,1.02,1.02,1.02,1.02,1.02,1.02,1.02,1.02,1.02,1.02,1.02,1.02,1.02],
[1.00,.95,.80,.68,.60,.54,.53,.52,.52,.51,.51,.51,.51,.51,.51,.51,.51,.51,.51,.51,.51,.51,.51,.51,.51,.51,.51,.51,.51,.51,.51,.51,.51,.51,.51,.51,.51,.51,.51,.51,.51,.51,.51],
[1.00,.98,.92,.86,.80,.74,.69,.63,.57,.52,.48,.46,.45,.44,.44,.44,.44,.44,.44,.44,.44,.44,.44,.44,.44,.44,.44,.44,.44,.44,.44,.44,.44,.44,.44,.44,.44,.44,.44,.44,.44,.44,.44],
[1.00,1.00,.97,.93,.88,.84,.81,.76,.71,.66,.61,.56,.52,.49,.48,.47,.47,.47,.47,.47,.47,.47,.47,.47,.47,.47,.47,.47,.47,.47,.47,.47,.47,.47,.47,.47,.47,.47,.47,.47,.47,.47,.47],
[1.00,1.00,.99,.97,.94,.91,.88,.85,.82,.80,.76,.71,.67,.62,.58,.54,.51,.50,.49,.49,.49,.49,.49,.49,.49,.49,.49,.49,.49,.49,.49,.49,.49,.49,.49,.49,.49,.49,.49,.49,.49,.49,.49],
[1.00,1.00,1.00,.99,.98,.96,.94,.92,.89,.87,.85,.82,.80,.76,.72,.68,.64,.60,.56,.53,.51,.50,.50,.50,.50,.50,.50,.50,.50,.50,.50,.50,.50,.50,.50,.50,.50,.50,.50,.50,.50,.50,.50],
[1.00,1.00,1.00,1.00,1.00,1.00,.99,.99,.98,.97,.96,.94,.92,.90,.87,.84,.81,.78,.75,.71,.68,.65,.62,.60,.58,.56,.54,.52,.51,.51,.51,.51,.51,.51,.51,.51,.51,.51,.51,.51,.51,.51,.51],
[1.00,1.00,1.00,1.00,1.01,1.01,1.01,1.00,1.00,.99,.98,.97,.96,.95,.93,.91,.89,.87,.85,.83,.81,.80,.77,.74,.71,.68,.65,.62,.59,.56,.55,.54,.54,.54,.54,.54,.54,.54,.54,.54,.54,.54,.54],
[1.00,1.00,1.01,1.01,1.02,1.02,1.02,1.02,1.02,1.02,1.02,1.01,1.01,1.00,.99,.98,.96,.95,.93,.91,.89,.87,.85,.83,.81,.79,.76,.73,.70,.67,.64,.62,.60,.58,.57,.57,.57,.57,.57,.57,.57,.57,.57]
];

// Yelloweye and cowcod (SHC): scenario 1 with its annual cycle, others smooth
const SHC_s1_lo = [1.00,1.02,1.05,1.08,1.10,1.13,1.15,1.18,1.20,1.22,1.24,1.27,
1.29,1.31,1.33,1.34,1.36,1.38,1.39,1.41,1.42,1.44,1.45,1.46,
1.47,1.49,1.50,1.51,1.52,1.53,1.54,1.55,1.56,1.57,1.57,1.58,
1.59,1.59,1.60,1.60,1.61,1.61,1.61,1.62,1.62,1.62,1.62,1.62,
1.63,1.63,1.63,1.63,1.63,1.63,1.63,1.63,1.63,1.63,1.63,1.62,
1.62,1.62,1.62,1.62,1.62,1.62,1.62,1.62,1.62,1.62,1.62,1.62,
1.62,1.62,1.62,1.62,1.62,1.62,1.62,1.62,1.62,1.62,1.62,1.62];
const SHC_s1_hi = [1.01,1.04,1.07,1.10,1.13,1.15,1.18,1.20,1.23,1.25,1.27,1.30,
1.32,1.34,1.35,1.37,1.39,1.41,1.42,1.44,1.45,1.47,1.48,1.49,
1.50,1.52,1.53,1.54,1.55,1.56,1.57,1.58,1.59,1.60,1.60,1.61,
1.62,1.62,1.63,1.63,1.64,1.64,1.64,1.65,1.65,1.65,1.65,1.65,
1.66,1.66,1.66,1.66,1.66,1.66,1.66,1.66,1.66,1.66,1.66,1.65,
1.65,1.65,1.65,1.65,1.65,1.65,1.65,1.65,1.65,1.65,1.65,1.65,
1.65,1.65,1.65,1.65,1.65,1.65,1.65,1.65,1.65,1.65,1.65,1.65];
const SHC_lines = [
[1.00,.95,.85,.77,.70,.64,.58,.54,.52,.51,.50,.50,.49,.49,.49,.50,.50,.51,.51,.51,.52,.52,.52,.52,.53,.53,.53,.53,.54,.54,.54,.54,.54,.54,.55,.55,.55,.55,.55,.55,.55,.55,.55],
[1.00,.93,.85,.77,.70,.64,.58,.53,.50,.48,.47,.46,.44,.43,.43,.43,.43,.43,.44,.44,.45,.45,.45,.46,.46,.46,.46,.46,.46,.47,.47,.47,.47,.47,.47,.47,.47,.47,.47,.47,.47,.47,.46],
[1.00,.97,.92,.87,.82,.77,.72,.68,.64,.60,.57,.54,.52,.51,.50,.50,.49,.49,.49,.50,.50,.50,.50,.51,.51,.51,.51,.51,.52,.52,.52,.52,.52,.52,.53,.53,.53,.53,.53,.53,.53,.53,.53],
[1.00,.98,.95,.91,.87,.84,.81,.78,.75,.72,.70,.67,.64,.61,.58,.56,.54,.53,.52,.52,.52,.52,.52,.53,.53,.53,.53,.53,.54,.54,.54,.54,.54,.55,.55,.55,.55,.55,.55,.55,.56,.56,.56],
[1.00,.99,.97,.95,.93,.91,.89,.87,.85,.83,.81,.79,.77,.75,.73,.71,.69,.67,.65,.63,.62,.61,.60,.59,.58,.58,.58,.57,.57,.57,.57,.57,.57,.57,.57,.57,.58,.58,.58,.58,.58,.58,.58],
[1.00,.99,.99,.99,.99,.99,.99,.98,.97,.96,.95,.94,.92,.90,.88,.87,.85,.84,.82,.80,.78,.77,.75,.74,.72,.71,.70,.69,.67,.66,.65,.64,.64,.63,.63,.62,.62,.62,.63,.63,.63,.64,.64],
[1.00,1.00,1.01,1.01,1.02,1.02,1.02,1.02,1.02,1.01,1.01,1.00,1.00,.99,.98,.97,.96,.95,.93,.92,.90,.89,.87,.86,.85,.84,.82,.81,.79,.78,.77,.76,.75,.74,.73,.73,.72,.72,.71,.71,.70,.70,.70],
[1.00,1.00,1.01,1.02,1.03,1.04,1.04,1.05,1.05,1.06,1.06,1.07,1.07,1.07,1.07,1.06,1.06,1.06,1.05,1.05,1.04,1.03,1.02,1.01,1.00,.98,.96,.94,.92,.90,.88,.86,.85,.84,.83,.82,.81,.80,.80,.79,.79,.79,.78]
];

// ---------------- styles ----------------
const FONT = "'Liberation Sans', Arial, Helvetica, sans-serif";
const LINE_COLORS = ['#000000','#1a1a1a','#333333','#4d4d4d','#666666','#808080','#999999','#b3b3b3','#cccccc'];
const LINE_TYPES = ['solid',[6,5],[2,4],[2,4,7,4],[11,5],[4,4,10,4],'solid',[6,5],[2,4]];
const COL_LEFT = [93, 696];
const ROW_TOP = [54, 573, 1092];
const BOX_W = 434, BOX_H = 309;

function oscData(lo, hi){
  const out = [];
  for (let i = 0; i < YEARS.length; i++){
    out.push([YEARS[i], lo[i]]);
    out.push([YEARS[i] + 0.5, hi[i]]);
  }
  return out;
}
function smoothData(v){ return YRS_SMOOTH.map((x,i)=>[x, v[i]]); }

const panels = [
  {title:'Deep large rockfish (FDO)', col:0,row:0, ymin:-0.0495, ymax:1.2865, yt:Y_TICKS_A, yl:Y_LABELS_A,
   lines: SCENARIOS.map((s,i)=>oscData(FDO_lo[i], FDO_hi[i]))},
  {title:'Midwater rockfish (FDS)', col:1,row:0, ymin:-0.0528, ymax:1.3728, yt:Y_TICKS_A, yl:Y_LABELS_A,
   lines: SCENARIOS.map((s,i)=>oscData(FDS_lo[i], FDS_hi[i]))},
  {title:'Canary rockfish (FPO)', col:0,row:1, ymin:-0.0458, ymax:1.1908, yt:Y_TICKS_B, yl:Y_LABELS_B,
   lines: SCENARIOS.map((s,i)=>smoothData(FPO_lines[i]))},
  {title:'Shortbelly rockfish (FVV)', col:1,row:1, ymin:-0.066, ymax:1.716, yt:Y_TICKS_C, yl:Y_LABELS_C,
   lines: SCENARIOS.map((s,i)=>oscData(FVV_lo[i], FVV_hi[i]))},
  {title:'Yelloweye and cowcod (SHC)', col:0,row:2, ymin:-0.0729, ymax:1.896, yt:Y_TICKS_C, yl:Y_LABELS_C,
   lines: [oscData(SHC_s1_lo, SHC_s1_hi)].concat(SHC_lines.map(smoothData))},
  {title:'Small flatfish (FDF)', col:1,row:2, ymin:-0.0765, ymax:1.9885, yt:Y_TICKS_C, yl:Y_LABELS_C,
   lines: SCENARIOS.map((s,i)=>oscData(FDF_lo[i], FDF_hi[i]))}
];

const txt = {color:'#000', fontFamily:FONT, fontSize:22};
const option = {animation:false, backgroundColor:'#fff', title:[], grid:[], xAxis:[], yAxis:[], series:[]};
panels.forEach((p, k) => {
  const left = COL_LEFT[p.col], top = ROW_TOP[p.row];
  option.title.push({text:p.title, left:left + BOX_W/2, top:top - 45, textAlign:'center', padding:0,
    textStyle:{fontFamily:FONT, fontSize:28, fontWeight:'bold', color:'#000'}});
  option.grid.push({left:left, top:top, width:BOX_W, height:BOX_H, show:true, borderColor:'#111', borderWidth:1.5, backgroundColor:'transparent'});
  option.xAxis.push({type:'value', gridIndex:k, min:-3.1, max:87.3,
    name:'Year', nameLocation:'middle', nameGap:69, nameTextStyle:txt,
    axisLine:{show:false, onZero:false}, splitLine:{show:false},
    axisTick:{show:true, length:13, customValues:X_TICKS, lineStyle:{color:'#111', width:1.5}},
    axisLabel:Object.assign({customValues:X_TICKS, margin:35, formatter:v=>String(v)}, txt)});
  option.yAxis.push({type:'value', gridIndex:k, min:p.ymin, max:p.ymax,
    name:'Reserve N / initial reserve N', nameLocation:'middle', nameRotate:90, nameGap:59, nameTextStyle:txt,
    axisLine:{show:false, onZero:false}, splitLine:{show:false},
    axisTick:{show:true, length:13, customValues:p.yt, lineStyle:{color:'#111', width:1.5}},
    axisLabel:Object.assign({customValues:p.yl, rotate:90, margin:26, formatter:v=>Number(v).toFixed(1)}, txt)});
  p.lines.forEach((d, i) => {
    option.series.push({type:'line', xAxisIndex:k, yAxisIndex:k, data:d, showSymbol:false, symbol:'none',
      silent:true, emphasis:{disabled:true}, clip:true,
      lineStyle:{color:LINE_COLORS[i], width:1.4, type:LINE_TYPES[i]}});
  });
});

const chart = echarts.init(document.getElementById('c'), null, {renderer:'canvas'});
chart.setOption(option);
</script>
</body>
</html>
